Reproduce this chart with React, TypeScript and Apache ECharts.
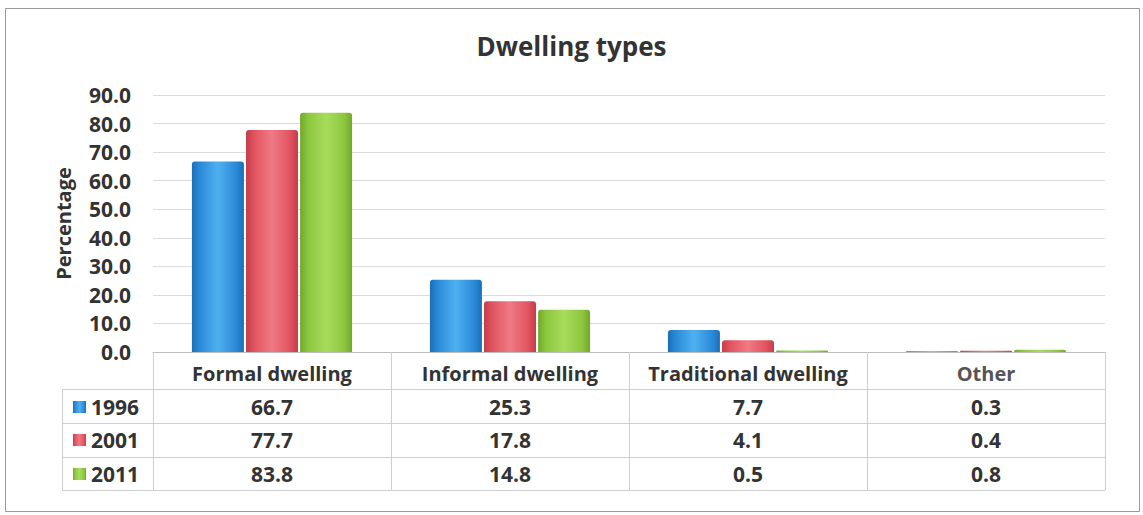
import React, { useEffect, useRef } from "react";
import * as echarts from "echarts";

const chartTitle = "Dwelling types";
const yAxisName = "Percentage";
const categories = ["Formal dwelling", "Informal dwelling", "Traditional dwelling", "Other"];
const years = ["1996", "2001", "2011"];
const values1996 = [66.7, 25.3, 7.7, 0.3];
const values2001 = [77.7, 17.8, 4.1, 0.4];
const values2011 = [83.8, 14.8, 0.5, 0.8];
const yMin = 0;
const yMax = 90;
const yInterval = 10;

const seriesValues = [values1996, values2001, values2011];
const baseColors = ["#2a8ad8", "#e0535f", "#8cc63e"];
const lightColors = ["#4fb0f0", "#f07a84", "#a8dc5c"];
const darkColors = ["#1a6fb8", "#c43e4a", "#72a82c"];

const FONT = "'Open Sans', 'Noto Sans', sans-serif";
const TXT = "#333333";

export default function App() {
  const ref = useRef<HTMLDivElement>(null);
  useEffect(() => {
    if (!ref.current) return;
    const chart = echarts.init(ref.current, undefined, { renderer: "svg" });
    const gridLeft = 153;
    const gridRight = 1105;
    const gridTop = 95;
    const gridBottom = 352;
    const rowCenters = [407, 440, 474];
    const hLines = [389, 423, 457, 490];
    const tableLeft = 62;

    const valueAxes = seriesValues.map((vals, i) => ({
      type: "category" as const,
      gridIndex: 0,
      position: "bottom" as const,
      offset: rowCenters[i] - gridBottom,
      data: vals.map((v) => v.toFixed(1)),
      axisLine: { show: false },
      axisTick: { show: false },
      splitLine: { show: false },
      axisLabel: {
        interval: 0,
        margin: 0,
        verticalAlign: "middle" as const,
        fontFamily: FONT,
        fontWeight: "bold" as const,
        fontSize: 21,
        color: TXT,
      },
    }));

    const graphics: any[] = [
      {
        type: "rect",
        shape: { x: 5.5, y: 8.5, width: 1134, height: 503 },
        style: { fill: "none", stroke: "#9a9a9a", lineWidth: 1 },
        silent: true,
      },
      ...hLines.map((y) => ({
        type: "line",
        shape: { x1: tableLeft, y1: y + 0.5, x2: gridRight, y2: y + 0.5 },
        style: { stroke: "#cfcfcf", lineWidth: 1 },
        silent: true,
      })),
      {
        type: "line",
        shape: { x1: tableLeft + 0.5, y1: hLines[0], x2: tableLeft + 0.5, y2: hLines[3] },
        style: { stroke: "#cfcfcf", lineWidth: 1 },
        silent: true,
      },
    ];

    const legends = years.map((y, i) => ({
      orient: "horizontal",
      left: 73,
      top: rowCenters[i] - 12,
      padding: 0,
      itemWidth: 13,
      itemHeight: 12,
      itemGap: 0,
      icon: "rect",
      data: [y],
      selectedMode: false,
      textStyle: {
        fontFamily: FONT,
        fontWeight: "bold",
        fontSize: 21,
        lineHeight: 24,
        color: TXT,
        padding: [0, 0, 0, 0],
      },
    }));

    chart.setOption({
      animation: false,
      backgroundColor: "#ffffff",
      title: {
        text: chartTitle,
        left: "center",
        top: 28,
        textStyle: { fontFamily: FONT, fontWeight: "bold", fontSize: 26, color: TXT },
      },
      legend: legends,
      grid: {
        left: gridLeft,
        right: 1143 - gridRight,
        top: gridTop,
        bottom: 515 - gridBottom,
        containLabel: false,
      },
      xAxis: [
        {
          type: "category",
          data: categories,
          axisLine: { show: true, lineStyle: { color: "#bdbdbd", width: 1 } },
          axisTick: { show: true, alignWithLabel: false, length: hLines[3] - gridBottom, lineStyle: { color: "#cfcfcf" } },
          axisLabel: {
            interval: 0,
            margin: 21,
            verticalAlign: "middle",
            fontFamily: FONT,
            fontWeight: "bold",
            fontSize: 20,
            color: (_v: string, idx: number) => (idx === 3 ? "#555555" : TXT),
          },
        },
        ...valueAxes,
      ],
      yAxis: {
        type: "value",
        min: yMin,
        max: yMax,
        interval: yInterval,
        name: yAxisName,
        nameLocation: "middle",
        nameGap: 80,
        nameTextStyle: { fontFamily: FONT, fontWeight: "bold", fontSize: 20, color: TXT },
        axisLine: { show: false },
        axisTick: { show: false },
        splitLine: { lineStyle: { color: "#dcdcdc", width: 1 } },
        axisLabel: {
          margin: 22,
          formatter: (v: number) => v.toFixed(1),
          fontFamily: FONT,
          fontWeight: "bold",
          fontSize: 21,
          color: TXT,
        },
      },
      series: seriesValues.map((vals, i) => ({
        name: years[i],
        type: "bar",
        xAxisIndex: 0,
        data: vals,
        barWidth: 52,
        barGap: "4%",
        itemStyle: {
          color: new echarts.graphic.LinearGradient(0, 0, 1, 0, [
            { offset: 0, color: darkColors[i] },
            { offset: 0.15, color: baseColors[i] },
            { offset: 0.5, color: lightColors[i] },
            { offset: 0.85, color: baseColors[i] },
            { offset: 1, color: darkColors[i] },
          ]),
          borderRadius: [3, 3, 0, 0],
        },
        emphasis: { disabled: true },
      })),
      color: baseColors,
      graphic: graphics,
    });
    return () => chart.dispose();
  }, []);
  return (
    <div
      ref={ref}
      style={{ position: "fixed", left: 0, top: 0, width: 1143, height: 515, background: "#fff" }}
    />
  );
}
